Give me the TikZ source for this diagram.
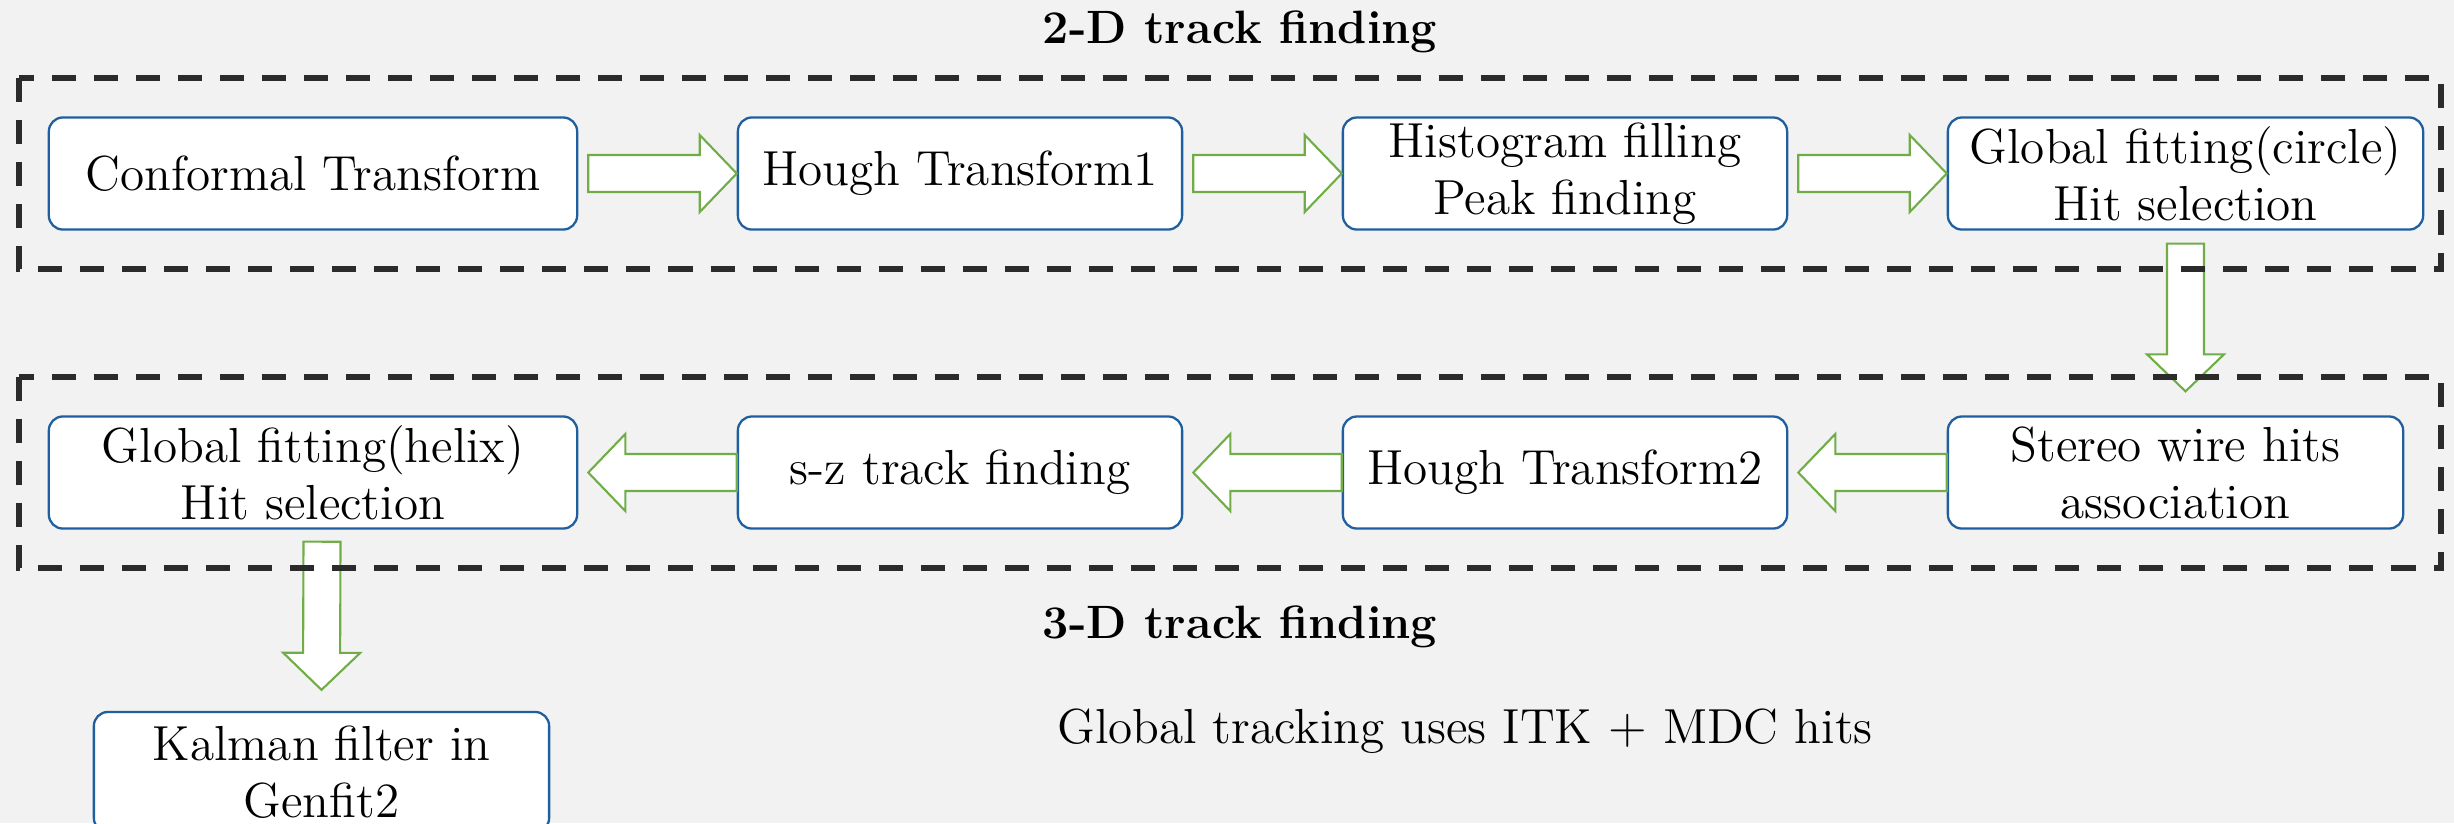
\documentclass[tikz,border=0pt]{standalone}
\usetikzlibrary{calc}
\definecolor{bgcol}{HTML}{F2F2F2}
\definecolor{boxblue}{HTML}{1F5F9F}
\definecolor{arrgreen}{HTML}{70AD47}
\definecolor{dashcol}{HTML}{2B2B2B}
\tikzset{
  stepbox/.style={draw=boxblue, line width=0.65pt, rounded corners=0.14cm, fill=white,
    minimum height=1.12cm, align=center, inner sep=0pt,
    font=\fontsize{14}{16.2}\selectfont},
  fatarrow/.style={draw=arrgreen, line width=0.6pt, fill=white, line join=miter},
  groupbox/.style={draw=dashcol, line width=1.6pt, dash pattern=on 0.24cm off 0.18cm},
  titletext/.style={anchor=base, font=\fontsize{13.3}{15}\selectfont\bfseries},
  plaintext/.style={anchor=base, font=\fontsize{14}{16}\selectfont}
}
\newcommand\fatarr[2]{%
  \coordinate (fa-s) at (#1);
  \coordinate (fa-t) at (#2);
  \coordinate (fa-b) at ($(fa-t)!0.37cm!(fa-s)$);
  \draw[fatarrow] ($(fa-s)!0.185cm!90:(fa-t)$) -- ($(fa-b)!0.185cm!90:(fa-t)$)
    -- ($(fa-b)!0.385cm!90:(fa-t)$) -- (fa-t) -- ($(fa-b)!0.385cm!-90:(fa-t)$)
    -- ($(fa-b)!0.185cm!-90:(fa-t)$) -- ($(fa-s)!0.185cm!-90:(fa-t)$) -- cycle;
}
\begin{document}
\begin{tikzpicture}[x=0.01cm, y=-0.01cm]
\fill[bgcol] (0,0) rectangle (2454,823);
\useasboundingbox (0,0) rectangle (2454,823);

% row 1
\node[stepbox, minimum width=5.28cm] (A) at (313,173.5) {Conformal Transform};
\node[stepbox, minimum width=4.44cm] (B) at (960,173.5) {Hough Transform1};
\node[stepbox, minimum width=4.44cm] (C) at (1565,173.5) {Histogram filling\\Peak finding};
\node[stepbox, minimum width=4.75cm] (D) at (2185.5,173.5) {Global fitting(circle)\\Hit selection};

% row 2
\node[stepbox, minimum width=5.28cm] (E) at (313,472.5) {Global fitting(helix)\\Hit selection};
\node[stepbox, minimum width=4.44cm] (F) at (960,472.5) {s-z track finding};
\node[stepbox, minimum width=4.44cm] (G) at (1565,472.5) {Hough Transform2};
\node[stepbox, minimum width=4.55cm] (H) at (2175.5,472.5) {Stereo wire hits\\association};

% Kalman
\node[stepbox, minimum width=4.55cm, minimum height=1.2cm] (K) at (321.5,772) {Kalman filter in\\Genfit2};

% arrows
\fatarr{$(A.east)+(10,0)$}{B.west}
\fatarr{$(B.east)+(10,0)$}{C.west}
\fatarr{$(C.east)+(10,0)$}{D.west}
\fatarr{H.west}{$(G.east)+(10,0)$}
\fatarr{G.west}{$(F.east)+(10,0)$}
\fatarr{F.west}{$(E.east)+(10,0)$}
\fatarr{$(D.south)+(0,13)$}{$(H.north)+(10,-24)$}
\fatarr{$(E.south)+(9,12)$}{$(K.north)+(0,-21)$}

% dashed group boxes
\draw[groupbox] (19,78) rectangle (2441,269);
\draw[groupbox] (19,377) rectangle (2441,568);

% labels
\node[titletext] (t2d) at (1240,43) {2-D track finding};
\node[titletext] (t3d) at (1240,638) {3-D track finding};
\node[plaintext] (note) at (1465,743) {Global tracking uses ITK $+$ MDC hits};
\end{tikzpicture}
\end{document}
